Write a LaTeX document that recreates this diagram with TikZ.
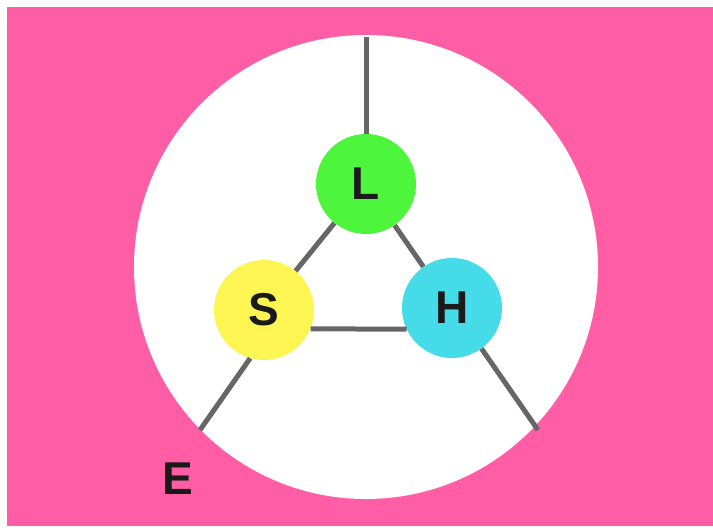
\documentclass[tikz,border=0pt]{standalone}
\usepackage{fontspec}
\setmainfont{Liberation Sans}
\definecolor{bgpink}{RGB}{255,94,166}
\definecolor{lgreen}{RGB}{77,245,60}
\definecolor{syellow}{RGB}{253,245,82}
\definecolor{hcyan}{RGB}{69,219,232}
\definecolor{linegray}{RGB}{102,102,102}
\definecolor{txtblack}{RGB}{26,26,26}
\begin{document}
\begin{tikzpicture}[x=1pt,y=-1pt]
    \useasboundingbox (0,0) rectangle (713,530);
    \fill[bgpink] (7,7) rectangle (713,526);
    \fill[white] (366,267) circle[radius=232pt];

    \begin{scope}[every node/.style={circle, minimum size=100pt, inner sep=0pt, text=txtblack, font=\bfseries\fontsize{46}{46}\selectfont}]
        \node[fill=lgreen] (L) at (366,184) {L};
        \node[fill=syellow] (S) at (264,310) {S};
        \node[fill=hcyan] (H) at (452,308) {H};
    \end{scope}

    \coordinate (top) at (366,37);
    \coordinate (sw) at (200,430);
    \coordinate (se) at (538,430);

    \begin{scope}[every edge/.style={draw, linegray, line width=5pt}]
        \path [-] (top) edge (L);
        \path [-] (L) edge (S);
        \path [-] (L) edge (H);
        \path [-] (S.-22) edge (H.-155);
        \path [-] (S.-106) edge (sw);
        \path [-] (H.-54) edge (se);
    \end{scope}

    \node[text=txtblack, font=\bfseries\fontsize{46}{46}\selectfont] (E) at (178,479) {E};
\end{tikzpicture}
\end{document}
